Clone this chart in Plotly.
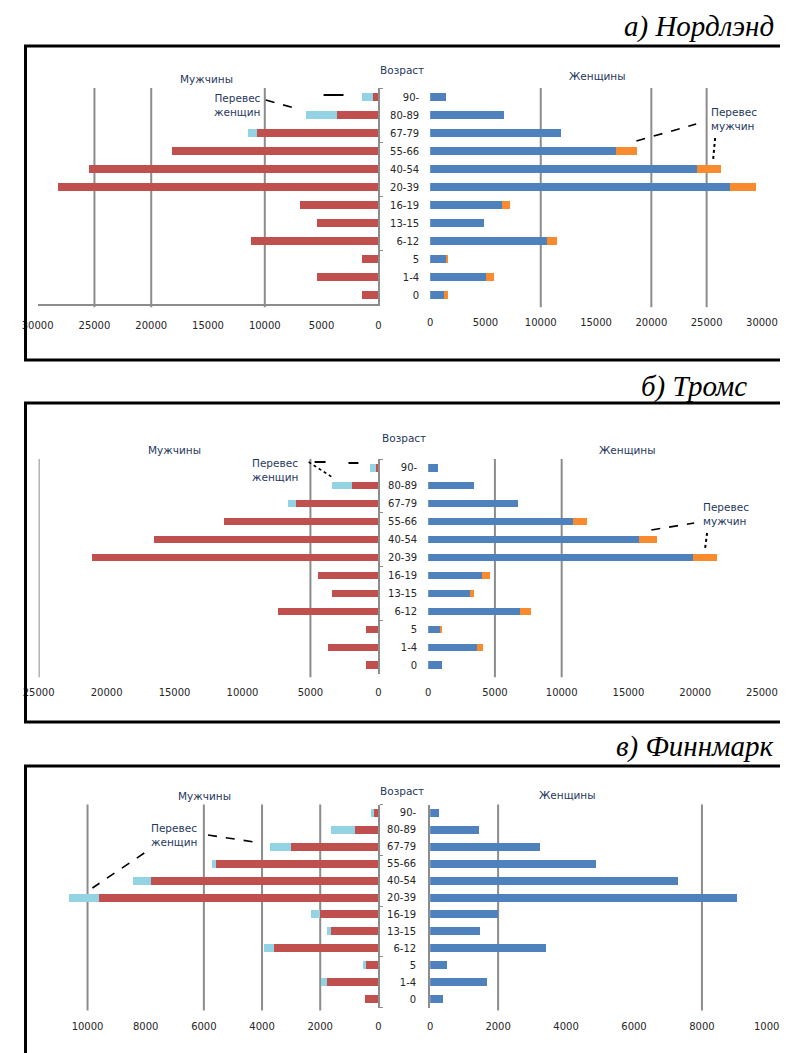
import plotly.graph_objects as go

W, H = 788, 1053

# ---------------- data ----------------
AGES = ["90-", "80-89", "67-79", "55-66", "40-54", "20-39", "16-19", "13-15", "6-12", "5", "1-4", "0"]

# а) Нордлэнд
A_MEN = [440, 3620, 10680, 18180, 25440, 28240, 6940, 5380, 11180, 1470, 5380, 1470]
A_MEN_EXTRA = [1030, 2790, 820, 0, 0, 0, 0, 0, 0, 0, 0, 0]          # перевес женщин
A_WOMEN = [1390, 6650, 11870, 16770, 24170, 27070, 6470, 4860, 10600, 1450, 5020, 1210]
A_WOMEN_EXTRA = [0, 0, 0, 1960, 2140, 2360, 720, 0, 910, 150, 750, 390]  # перевес мужчин

# б) Тромс
B_MEN = [200, 1920, 6060, 11350, 16530, 21110, 4430, 3400, 7390, 890, 3690, 890]
B_MEN_EXTRA = [420, 1480, 590, 0, 0, 0, 0, 0, 0, 0, 0, 0]
B_WOMEN = [730, 3440, 6760, 10830, 15800, 19870, 4050, 3170, 6910, 850, 3620, 1030]
B_WOMEN_EXTRA = [0, 0, 0, 1050, 1360, 1790, 600, 300, 780, 180, 450, 0]

# в) Финнмарк
C_MEN = [140, 820, 2990, 5590, 7830, 9600, 2020, 1630, 3600, 470, 1760, 470]
C_MEN_EXTRA = [120, 810, 750, 130, 600, 1030, 290, 130, 330, 50, 210, 0]
C_WOMEN = [260, 1430, 3240, 4880, 7290, 9040, 1990, 1480, 3410, 490, 1660, 370]
C_WOMEN_EXTRA = [0] * 12

A_TICKS = [0, 5000, 10000, 15000, 20000, 25000, 30000]
B_TICKS = [0, 5000, 10000, 15000, 20000, 25000]
C_TICKS = [0, 2000, 4000, 6000, 8000, 10000]

A_GRID_L = [10000, 20000, 25000]
A_GRID_R = [10000, 20000, 25000]
B_GRID_L = [5000, 25000]
B_GRID_R = [5000, 10000]
C_GRID_L = [2000, 4000, 6000, 10000]
C_GRID_R = [2000, 8000]

TITLES = ["а) Нордлэнд", "б) Тромс", "в) Финнмарк"]
MEN_LABEL = "Мужчины"
WOMEN_LABEL = "Женщины"
AGE_LABEL = "Возраст"
SURPLUS_W = "Перевес<br>женщин"
SURPLUS_M = "Перевес<br>мужчин"

# ---------------- style ----------------
RED = "#C0504D"
LBLUE = "#93D3E3"
BLUE = "#4F81BD"
ORANGE = "#F98A2E"
GRID = "#8C8C8C"
TXT = "#262626"
HEAD = "#1F3760"
FONT = "DejaVu Sans"

# page placement correction (screen px -> figure fraction)
SX, OX, OY = 0.963, 22.3, 8.0


def px(x):
    return ((x - OX) / SX) / W


def py(y):
    return 1 - (y - OY) / H


panels = [
    dict(men=A_MEN, men_x=A_MEN_EXTRA, women=A_WOMEN, women_x=A_WOMEN_EXTRA,
         lpx=(36, 378), lmax=30000, rpx=(430, 763), rmax=30000, ypx=(88, 304), bw=0.45,
         lt=A_TICKS, rt=A_TICKS, lg=A_GRID_L, rg=A_GRID_R, bottom_line=True, rline=False),
    dict(men=B_MEN, men_x=B_MEN_EXTRA, women=B_WOMEN, women_x=B_WOMEN_EXTRA,
         lpx=(37, 378), lmax=25000, rpx=(428, 763), rmax=25000, ypx=(459, 674), bw=0.4,
         lt=B_TICKS, rt=B_TICKS, lg=B_GRID_L, rg=B_GRID_R, bottom_line=False, rline=False),
    dict(men=C_MEN, men_x=C_MEN_EXTRA, women=C_WOMEN, women_x=C_WOMEN_EXTRA,
         lpx=(56, 378), lmax=11030, rpx=(430, 771), rmax=10000, ypx=(804.5, 1007.5), bw=0.47,
         lt=C_TICKS, rt=C_TICKS, lg=C_GRID_L, rg=C_GRID_R, bottom_line=False, rline=True),
]

fig = go.Figure()
layout = dict(width=W, height=H, margin=dict(l=0, r=0, t=0, b=0), autosize=False,
              paper_bgcolor="white", plot_bgcolor="rgba(0,0,0,0)", barmode="stack",
              showlegend=False, shapes=[], annotations=[])


def axname(n, kind):
    return kind if n == 1 else f"{kind}{n}"


def axkey(n, kind):
    return f"{kind}axis" if n == 1 else f"{kind}axis{n}"


for i, p in enumerate(panels):
    nl, nr = 2 * i + 1, 2 * i + 2
    ydom = [py(p["ypx"][1]), py(p["ypx"][0])]
    for (vals, col, n) in [(p["men"], RED, nl), (p["men_x"], LBLUE, nl),
                           (p["women"], BLUE, nr), (p["women_x"], ORANGE, nr)]:
        fig.add_trace(go.Bar(x=vals, y=AGES, orientation="h", marker=dict(color=col, line=dict(width=0)),
                             width=p["bw"], xaxis=axname(n, "x"), yaxis=axname(n, "y"), hoverinfo="skip"))
    tickfont = dict(family=FONT, size=10, color=TXT)
    layout[axkey(nl, "x")] = dict(
        domain=[px(p["lpx"][0]), px(p["lpx"][1])], range=[p["lmax"], 0], anchor=axname(nl, "y"),
        tickvals=p["lt"], ticktext=[str(v) for v in p["lt"]], tickfont=tickfont, ticks="",
        showgrid=False, zeroline=False, showline=p["bottom_line"], linecolor=GRID, linewidth=2,
        ticklabelstandoff=11, fixedrange=True)
    layout[axkey(nl, "y")] = dict(
        domain=ydom, type="category", categoryorder="array", categoryarray=AGES[::-1],
        range=[-0.5, 11.5], anchor=axname(nl, "x"), side="right", showticklabels=False,
        showline=True, linecolor=GRID, linewidth=2, ticks="outside", ticklen=3, tickcolor=GRID,
        tickson="boundaries", dtick=3, showgrid=False, zeroline=False, fixedrange=True)
    layout[axkey(nr, "x")] = dict(
        domain=[px(p["rpx"][0]), px(p["rpx"][1])], range=[0, p["rmax"]], anchor=axname(nr, "y"),
        tickvals=p["rt"], ticktext=[str(v) for v in p["rt"]], tickfont=tickfont, ticks="",
        showgrid=False, zeroline=False, showline=False, ticklabelstandoff=11, fixedrange=True)
    layout[axkey(nr, "y")] = dict(
        domain=ydom, type="category", categoryorder="array", categoryarray=AGES[::-1],
        range=[-0.5, 11.5], anchor=axname(nr, "x"), side="left", showticklabels=True,
        tickfont=tickfont, ticklabelstandoff=10, showline=p["rline"], linecolor=GRID, linewidth=2,
        ticks="", showgrid=False, zeroline=False, fixedrange=True)
    for g in p["lg"]:
        layout["shapes"].append(dict(type="line", xref=axname(nl, "x"), yref=axname(nl, "y") + " domain",
                                     x0=g, x1=g, y0=-0.015, y1=1.0, line=dict(color=GRID, width=2), layer="below"))
    for g in p["rg"]:
        layout["shapes"].append(dict(type="line", xref=axname(nr, "x"), yref=axname(nr, "y") + " domain",
                                     x0=g, x1=g, y0=-0.015, y1=1.0, line=dict(color=GRID, width=2), layer="below"))

# panel frames
for (y0, y1) in [(46, 360), (403, 722), (766, 1075)]:
    layout["shapes"].append(dict(type="rect", xref="paper", yref="paper", x0=max(px(10), 0.002), x1=px(805),
                                 y0=py(y1), y1=py(y0), line=dict(color="black", width=3)))

# titles (kept fully inside the page)
for (t, x, y, anc) in [(TITLES[0], 777, 27, "right"), (TITLES[1], 640, 386, "left"),
                       (TITLES[2], 777, 746, "right")]:
    layout["annotations"].append(dict(text=t, x=px(x), y=py(y), xref="paper", yref="paper",
                                      xanchor=anc, yanchor="middle", showarrow=False,
                                      font=dict(family="Liberation Serif", size=29, color="black", style="italic")))


def label(text, x, y, anchor="center", color=HEAD, size=10.5):
    layout["annotations"].append(dict(text=text, x=px(x), y=py(y), xref="paper", yref="paper",
                                      xanchor=anchor, yanchor="middle", showarrow=False,
                                      align=anchor if anchor != "center" else "center",
                                      font=dict(family=FONT, size=size, color=color)))


label(MEN_LABEL, 205, 79)
label(AGE_LABEL, 402, 70)
label(WOMEN_LABEL, 598, 76)
label(MEN_LABEL, 173, 450)
label(AGE_LABEL, 404, 438)
label(WOMEN_LABEL, 628, 450)
label(MEN_LABEL, 203, 796)
label(AGE_LABEL, 402, 791)
label(WOMEN_LABEL, 568, 795)

label(SURPLUS_W, 262, 105, anchor="right")
label(SURPLUS_M, 710, 119, anchor="left")
label(SURPLUS_W, 249, 470, anchor="left")
label(SURPLUS_M, 702, 514, anchor="left")
label(SURPLUS_W, 148, 835, anchor="left")


def seg(x0, y0, x1, y1, dash="dash", width=1.6):
    layout["shapes"].append(dict(type="line", xref="paper", yref="paper", x0=px(x0), y0=py(y0),
                                 x1=px(x1), y1=py(y1), line=dict(color="black", width=width, dash=dash)))


seg(265, 100, 297, 109)
seg(323, 95, 343, 95, dash="solid", width=2)
seg(637, 141, 697, 124)
seg(716, 138, 714, 160, dash="dot", width=2)
seg(308, 462, 333, 478, dash="dot", width=1.6)
seg(314, 462, 325, 462, dash="solid", width=2)
seg(348, 463, 358, 463, dash="solid", width=2)
seg(652, 530, 695, 523)
seg(708, 533, 706, 548, dash="dot", width=2)
seg(207, 835, 260, 843)
seg(143, 853, 91, 888)

fig.update_layout(**layout)
fig.write_html("out.html")
